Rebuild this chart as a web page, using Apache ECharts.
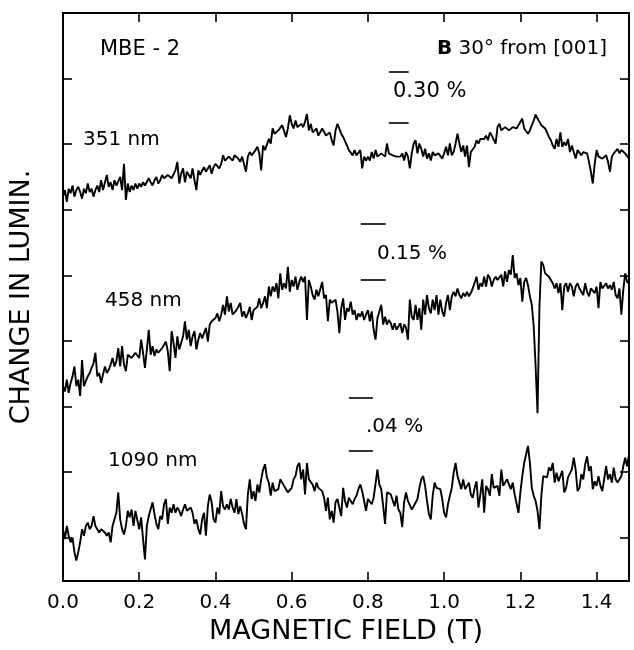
<!DOCTYPE html>
<html>
<head>
<meta charset="utf-8">
<script src="https://cdn.jsdelivr.net/npm/echarts@6/dist/echarts.min.js"></script>
<style>html,body{margin:0;padding:0;background:#fff}#c{width:634px;height:650px}</style>
</head>
<body>
<div id="c"></div>
<script>
// Magnetic field grid (T)
const field = [
0,0.005,0.01,0.015,0.02,0.025,0.03,0.035,0.04,0.045,
0.05,0.055,0.06,0.065,0.07,0.075,0.08,0.085,0.09,0.095,
0.1,0.105,0.11,0.115,0.12,0.125,0.13,0.135,0.14,0.145,
0.15,0.155,0.16,0.165,0.17,0.175,0.18,0.185,0.19,0.195,
0.2,0.205,0.21,0.215,0.22,0.225,0.23,0.235,0.24,0.245,
0.25,0.255,0.26,0.265,0.27,0.275,0.28,0.285,0.29,0.295,
0.3,0.305,0.31,0.315,0.32,0.325,0.33,0.335,0.34,0.345,
0.35,0.355,0.36,0.365,0.37,0.375,0.38,0.385,0.39,0.395,
0.4,0.405,0.41,0.415,0.42,0.425,0.43,0.435,0.44,0.445,
0.45,0.455,0.46,0.465,0.47,0.475,0.48,0.485,0.49,0.495,
0.5,0.505,0.51,0.515,0.52,0.525,0.53,0.535,0.54,0.545,
0.55,0.555,0.56,0.565,0.57,0.575,0.58,0.585,0.59,0.595,
0.6,0.605,0.61,0.615,0.62,0.625,0.63,0.635,0.64,0.645,
0.65,0.655,0.66,0.665,0.67,0.675,0.68,0.685,0.69,0.695,
0.7,0.705,0.71,0.715,0.72,0.725,0.73,0.735,0.74,0.745,
0.75,0.755,0.76,0.765,0.77,0.775,0.78,0.785,0.79,0.795,
0.8,0.805,0.81,0.815,0.82,0.825,0.83,0.835,0.84,0.845,
0.85,0.855,0.86,0.865,0.87,0.875,0.88,0.885,0.89,0.895,
0.9,0.905,0.91,0.915,0.92,0.925,0.93,0.935,0.94,0.945,
0.95,0.955,0.96,0.965,0.97,0.975,0.98,0.985,0.99,0.995,
1.0,1.005,1.01,1.015,1.02,1.025,1.03,1.035,1.04,1.045,
1.05,1.055,1.06,1.065,1.07,1.075,1.08,1.085,1.09,1.095,
1.1,1.105,1.11,1.115,1.12,1.125,1.13,1.135,1.14,1.145,
1.15,1.155,1.16,1.165,1.17,1.175,1.18,1.185,1.19,1.195,
1.2,1.205,1.21,1.215,1.22,1.225,1.23,1.235,1.24,1.245,
1.25,1.255,1.26,1.265,1.27,1.275,1.28,1.285,1.29,1.295,
1.3,1.305,1.31,1.315,1.32,1.325,1.33,1.335,1.34,1.345,
1.35,1.355,1.36,1.365,1.37,1.375,1.38,1.385,1.39,1.395,
1.4,1.405,1.41,1.415,1.42,1.425,1.43,1.435,1.44,1.445,
1.45,1.455,1.46,1.465,1.47,1.475,1.48,1.485
];

// Change in luminescence (arbitrary units, traces offset vertically)
const lum351 = [
5.20,5.30,5.12,5.32,5.25,5.37,5.20,5.30,5.35,5.27,
5.17,5.32,5.25,5.40,5.27,5.32,5.20,5.30,5.37,5.27,
5.45,5.30,5.32,5.53,5.35,5.42,5.30,5.45,5.37,5.37,
5.50,5.30,5.70,5.15,5.40,5.27,5.37,5.30,5.40,5.32,
5.40,5.35,5.42,5.37,5.35,5.48,5.42,5.37,5.45,5.50,
5.40,5.45,5.53,5.48,5.45,5.53,5.55,5.48,5.45,5.60,
5.73,5.40,5.55,5.63,5.42,5.58,5.53,5.48,5.63,5.45,
5.30,5.60,5.53,5.60,5.65,5.58,5.63,5.68,5.55,5.65,
5.70,5.73,5.63,5.70,5.83,5.75,5.73,5.81,5.78,5.75,
5.83,5.86,5.78,5.73,5.81,5.83,5.58,5.81,5.88,5.83,
5.81,5.91,5.96,5.86,5.60,5.98,5.91,5.88,6.08,6.01,
6.24,6.16,6.16,6.21,6.24,6.29,6.31,6.11,6.24,6.44,
6.31,6.24,6.36,6.26,6.29,6.31,6.26,6.34,6.46,6.21,
6.31,6.18,6.16,6.24,6.13,6.11,6.24,6.26,6.13,6.16,
6.18,6.06,5.98,6.21,6.31,6.34,6.16,6.11,6.08,5.98,
5.91,5.88,5.83,5.91,5.83,5.83,5.91,5.63,5.81,5.75,
5.81,5.75,5.88,5.78,5.91,5.81,5.83,5.86,5.88,5.81,
6.01,5.86,5.83,5.83,5.81,5.81,5.78,5.81,5.86,5.75,
5.88,5.81,5.63,5.86,6.01,6.06,5.86,6.01,5.93,5.81,
5.93,5.78,5.86,5.75,5.88,5.83,5.81,5.86,5.86,5.78,
5.86,5.96,5.83,6.01,5.83,5.88,6.01,6.16,6.01,5.88,
5.98,5.81,5.98,5.65,5.88,5.86,5.96,6.06,6.01,6.08,
6.06,6.08,6.13,6.06,6.18,6.13,6.11,6.01,6.26,6.31,
6.21,6.18,6.26,6.24,6.21,6.24,6.26,6.24,6.24,6.29,
6.31,6.39,6.24,6.26,6.16,6.21,6.29,6.36,6.45,6.39,
6.34,6.29,6.26,6.24,6.21,6.11,6.06,5.98,5.93,6.08,
5.96,6.18,5.96,6.03,5.98,6.08,5.88,5.98,5.96,5.78,
5.91,5.93,5.83,5.88,5.91,5.86,5.73,5.58,5.40,5.70,
5.91,5.81,5.83,5.78,5.78,5.83,5.73,5.58,5.81,5.86,
5.88,5.93,5.86,5.91,5.93,5.86,5.83,5.78
];

const lum458 = [
2.31,2.23,2.41,2.21,2.36,2.46,2.61,2.31,2.41,2.16,
2.71,2.31,2.39,2.46,2.51,2.59,2.66,2.82,2.46,2.51,
2.36,2.49,2.61,2.51,2.56,2.64,2.74,2.61,2.69,2.89,
2.61,2.92,2.64,2.54,2.79,2.82,2.74,2.77,2.82,2.84,
2.74,3.02,2.82,2.59,2.87,3.17,2.79,2.92,2.77,2.87,
2.82,2.79,2.89,2.92,2.99,2.84,2.54,3.15,2.97,2.74,
3.07,2.87,2.97,3.07,3.30,3.02,3.17,2.92,3.07,3.15,
2.87,3.02,3.12,3.04,3.07,3.20,2.99,3.25,3.30,3.32,
3.35,3.42,3.30,3.40,3.55,3.40,3.68,3.45,3.58,3.40,
3.37,3.47,3.52,3.58,3.37,3.45,3.35,3.42,3.52,3.32,
3.47,3.50,3.52,3.65,3.50,3.58,3.68,3.50,3.83,3.68,
3.83,3.75,3.88,3.65,4.03,3.78,3.88,3.80,4.13,3.75,
3.93,3.83,3.98,3.78,3.90,3.98,3.90,3.98,3.32,3.93,
3.83,3.70,3.63,3.78,3.68,3.65,3.90,3.65,3.70,3.30,
3.63,3.58,3.55,3.63,3.45,3.12,3.50,3.65,3.32,3.50,
3.45,3.60,3.40,3.47,3.32,3.42,3.37,3.45,3.32,3.40,
3.47,3.30,3.45,3.17,3.02,3.35,3.45,3.55,3.25,3.37,
3.25,3.32,3.27,3.17,3.27,3.17,3.22,3.27,3.12,3.25,
3.20,3.02,3.63,3.37,3.32,3.55,3.32,3.50,3.17,3.63,
3.40,3.70,3.50,3.42,3.63,3.47,3.70,3.40,3.63,3.45,
3.37,3.58,3.70,3.47,3.68,3.75,3.68,3.80,3.70,3.65,
3.73,3.68,3.75,3.68,3.73,3.80,3.80,3.98,3.78,3.88,
3.83,3.98,3.83,4.01,3.96,3.83,3.93,3.98,3.93,3.90,
4.01,3.83,4.06,3.90,4.08,4.01,4.31,3.96,4.03,3.85,
3.96,3.60,3.90,3.96,3.85,3.68,3.55,3.22,2.61,1.90,
3.52,4.21,4.16,4.03,4.06,3.98,4.01,3.88,3.80,3.88,
3.73,3.88,3.47,3.83,3.88,3.75,3.88,3.83,3.68,3.83,
3.88,3.80,3.83,3.70,3.88,3.75,3.68,3.80,3.78,3.73,
3.83,3.50,3.90,3.80,3.83,3.88,3.80,3.85,3.78,3.90,
3.70,3.65,3.80,3.40,3.78,4.03,3.90,3.88
];

const lum1090 = [
0.13,-0.02,0.18,0.03,-0.07,0.00,-0.22,-0.35,-0.22,-0.07,
0.13,0.03,0.18,0.23,0.13,0.18,0.33,0.18,0.13,0.08,
0.13,0.10,0.08,0.03,0.08,-0.07,0.18,0.18,0.38,0.69,
0.28,0.13,0.05,0.18,0.41,0.31,0.43,0.18,0.41,0.43,
0.13,0.31,-0.02,-0.33,0.18,0.33,0.36,0.54,0.36,0.21,
0.13,0.33,0.28,0.51,0.59,0.21,0.46,0.38,0.51,0.38,
0.46,0.41,0.33,0.43,0.51,0.41,0.41,0.46,0.38,0.21,
0.28,0.13,0.05,0.28,0.38,0.03,0.48,0.66,0.54,0.28,
0.23,0.46,0.36,0.71,0.48,0.43,0.51,0.43,0.59,0.46,
0.38,0.59,0.36,0.48,0.36,0.21,0.13,0.66,0.89,0.59,
0.71,0.56,0.81,0.69,0.89,1.04,1.12,0.92,0.84,0.64,
0.84,0.71,0.69,0.74,0.89,0.92,0.79,0.79,0.69,0.69,
0.76,0.89,0.94,1.09,1.14,0.89,1.04,0.66,1.14,0.89,
0.86,0.81,0.71,0.84,0.76,0.79,0.71,0.61,0.41,0.61,
0.28,0.41,0.23,0.54,0.59,0.56,0.33,0.76,0.56,0.46,
0.61,0.64,0.51,0.59,0.64,0.74,0.81,0.71,0.56,0.41,
0.59,0.59,0.51,0.61,0.64,1.04,0.81,0.74,0.48,0.21,
0.69,0.69,0.66,0.69,0.48,0.64,0.43,0.38,0.16,0.54,
0.69,0.56,0.54,0.43,0.48,0.48,0.59,0.76,0.89,0.94,
0.79,0.56,0.36,0.28,0.64,0.84,0.76,0.74,0.74,0.59,
0.38,0.31,0.51,0.64,0.76,0.99,1.14,0.94,0.84,0.74,
0.89,0.74,0.74,0.84,0.66,0.61,0.76,0.86,0.46,0.66,
0.89,0.38,0.79,0.74,0.64,0.97,0.76,0.74,0.79,0.64,
1.04,0.79,0.81,0.89,0.86,0.74,0.84,0.66,0.69,0.38,
0.69,0.94,1.14,1.27,1.40,1.14,0.76,0.64,0.56,0.41,
0.13,0.64,0.94,0.97,0.92,1.07,1.02,1.14,0.84,0.99,
0.86,0.84,1.02,0.69,0.76,0.92,0.89,1.04,1.22,1.04,
0.71,0.76,0.97,0.89,1.12,1.24,1.02,1.09,0.74,0.86,
0.79,0.94,0.79,0.71,0.71,1.09,0.89,0.97,0.84,1.07,
0.89,0.84,0.89,0.94,1.09,1.22,1.09,1.27
];

// Tick values
const xTicks = [0, 0.2, 0.4, 0.6, 0.8, 1.0, 1.2, 1.4];
const yTicks = [0, 1, 2, 3, 4, 5, 6, 7];

// Scale bars (percent change markers)
const barLabels = ['0.30 %', '0.15 %', '.04 %'];
const barX0 = [0.855, 0.781, 0.750];
const barX1 = [0.907, 0.847, 0.813];
const barTop = [7.11, 4.78, 2.14];
const barBottom = [6.33, 3.93, 1.33];

const traceNames = ['351 nm', '458 nm', '1090 nm'];

const FONT = "'DejaVu Sans', sans-serif";
const INK = '#000';

function pairs(ys) { return field.map((x, i) => [x, ys[i]]); }

const barSegs = [];
for (let i = 0; i < barX0.length; i++) {
  barSegs.push([{ coord: [barX0[i], barTop[i]] }, { coord: [barX1[i], barTop[i]] }]);
  barSegs.push([{ coord: [barX0[i], barBottom[i]] }, { coord: [barX1[i], barBottom[i]] }]);
}

const axisCommon = {
  type: 'value',
  axisLine: { show: true, onZero: false, lineStyle: { color: INK, width: 2 } },
  axisTick: { show: true, inside: true, length: 9, lineStyle: { color: INK, width: 1.6 } },
  splitLine: { show: false }
};

function traceSeries(name, ys) {
  return {
    name: name, type: 'line', data: pairs(ys), showSymbol: false, symbol: 'none',
    lineStyle: { color: INK, width: 1.9 }, animation: false, z: 3
  };
}

function txt(text, x, y, size, align) {
  return {
    type: 'text', x: x, y: y, z: 10,
    style: { text: text, fontSize: size, fontFamily: FONT, fill: INK,
      textAlign: align || 'left', textVerticalAlign: 'middle' }
  };
}

const chart = echarts.init(document.getElementById('c'), null, { renderer: 'canvas' });
chart.setOption({
  backgroundColor: '#fff',
  animation: false,
  grid: { left: 63, right: 5, top: 13, bottom: 68, containLabel: false },
  xAxis: [
    Object.assign({}, axisCommon, {
      position: 'bottom', min: 0, max: 1.485,
      axisTick: Object.assign({}, axisCommon.axisTick, { customValues: xTicks }),
      axisLabel: { show: true, customValues: xTicks, margin: 12, color: INK, fontSize: 20, fontFamily: FONT,
        formatter: v => v.toFixed(1) },
      name: 'MAGNETIC FIELD (T)', nameLocation: 'middle', nameGap: 37,
      nameTextStyle: { color: INK, fontSize: 27, fontFamily: FONT }
    }),
    Object.assign({}, axisCommon, {
      position: 'top', min: 0, max: 1.485,
      axisTick: Object.assign({}, axisCommon.axisTick, { customValues: xTicks }),
      axisLabel: { show: false }
    })
  ],
  yAxis: [
    Object.assign({}, axisCommon, {
      position: 'left', min: -0.66, max: 8,
      axisTick: Object.assign({}, axisCommon.axisTick, { customValues: yTicks }),
      axisLabel: { show: false },
      name: 'CHANGE IN LUMIN.', nameLocation: 'middle', nameGap: 28,
      nameTextStyle: { color: INK, fontSize: 27, fontFamily: FONT }
    }),
    Object.assign({}, axisCommon, {
      position: 'right', min: -0.66, max: 8,
      axisTick: Object.assign({}, axisCommon.axisTick, { customValues: yTicks }),
      axisLabel: { show: false }
    })
  ],
  series: [
    traceSeries(traceNames[0], lum351),
    traceSeries(traceNames[1], lum458),
    traceSeries(traceNames[2], lum1090),
    {
      name: 'scale', type: 'line', data: [], symbol: 'none',
      markLine: {
        silent: true, symbol: ['none', 'none'], animation: false,
        label: { show: false },
        lineStyle: { color: INK, width: 1.6, type: 'solid' },
        data: barSegs
      }
    }
  ],
  graphic: [
    txt('MBE - 2', 100, 50, 21),
    {
      type: 'text', x: 607, y: 49, z: 10,
      style: {
        text: '{b|B} 30° from [001]', fontSize: 20, fontFamily: FONT, fill: INK,
        textAlign: 'right', textVerticalAlign: 'middle',
        rich: { b: { fontWeight: 'bold', fontSize: 20, fontFamily: FONT, fill: INK } }
      }
    },
    txt(traceNames[0], 83, 140, 20),
    txt(barLabels[0], 393, 92, 21),
    txt(traceNames[1], 105, 301, 20),
    txt(barLabels[1], 377, 254, 20),
    txt(traceNames[2], 108, 461, 20),
    txt(barLabels[2], 366, 427, 20)
  ]
});
</script>
</body>
</html>
